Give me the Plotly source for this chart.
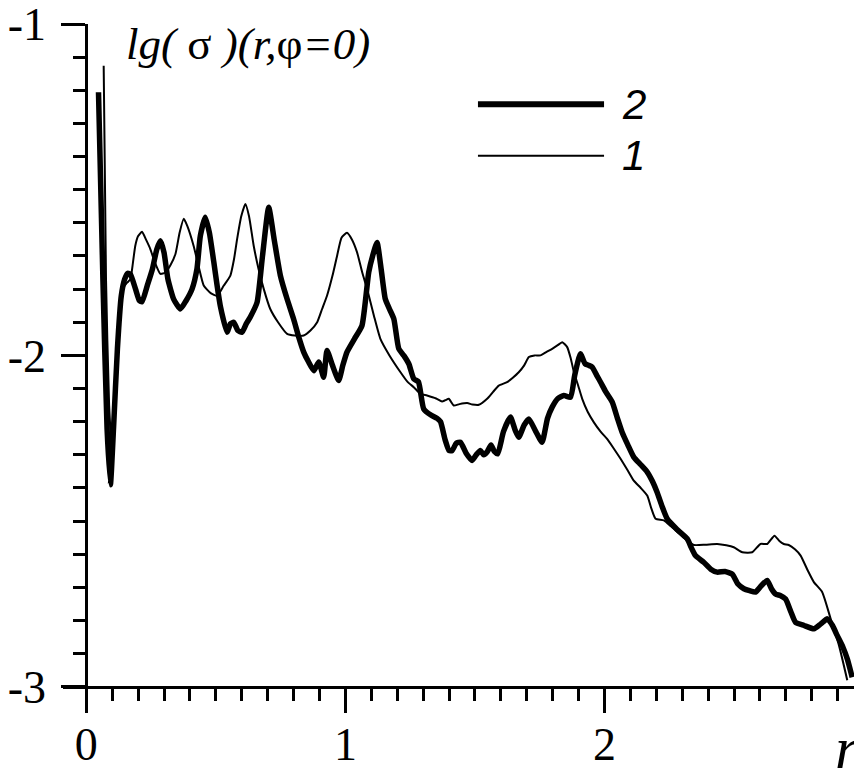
import plotly.graph_objects as go

# ---- data ----
r_curve1 = [0.067, 0.076, 0.088, 0.1, 0.112, 0.124, 0.14, 0.158, 0.17, 0.18, 0.189, 0.2, 0.215, 0.23, 0.247,
            0.265, 0.286, 0.305, 0.324, 0.344, 0.36, 0.376, 0.39, 0.414, 0.433, 0.453, 0.48, 0.505, 0.53, 0.556,
            0.57, 0.582, 0.598, 0.614, 0.628, 0.646, 0.665, 0.685, 0.71, 0.74, 0.775, 0.805, 0.839, 0.865, 0.891,
            0.91, 0.929, 0.95, 0.968, 0.985, 1.006, 1.025, 1.045, 1.065, 1.084, 1.11, 1.135, 1.17, 1.212, 1.24,
            1.264, 1.29, 1.315, 1.35, 1.373, 1.386, 1.399, 1.418, 1.44, 1.47, 1.49, 1.515, 1.547, 1.57, 1.592,
            1.624, 1.645, 1.669, 1.69, 1.708, 1.73, 1.753, 1.775, 1.798, 1.818, 1.837, 1.856, 1.87, 1.882, 1.898,
            1.914, 1.935, 1.959, 1.985, 2.01, 2.035, 2.062, 2.088, 2.113, 2.14, 2.165, 2.18, 2.197, 2.229, 2.255,
            2.281, 2.31, 2.345, 2.39, 2.435, 2.47, 2.499, 2.532, 2.57, 2.602, 2.628, 2.656, 2.675, 2.692, 2.711,
            2.735, 2.757, 2.785, 2.808, 2.84, 2.873, 2.905, 2.937]
lg_curve1 = [-1.126, -1.77, -2.15, -2.30, -2.12, -1.89, -1.80, -1.78, -1.77, -1.72, -1.669, -1.64, -1.627, -1.65,
             -1.679, -1.72, -1.754, -1.75, -1.729, -1.694, -1.63, -1.588, -1.61, -1.669, -1.73, -1.789, -1.812,
             -1.82, -1.79, -1.759, -1.71, -1.649, -1.58, -1.543, -1.58, -1.669, -1.74, -1.80, -1.86, -1.90, -1.935,
             -1.94, -1.94, -1.925, -1.90, -1.86, -1.82, -1.76, -1.699, -1.645, -1.63, -1.65, -1.689, -1.75, -1.80,
             -1.88, -1.95, -2.0, -2.05, -2.08, -2.096, -2.116, -2.121, -2.13, -2.139, -2.135, -2.131, -2.151,
             -2.147, -2.144, -2.148, -2.149, -2.131, -2.11, -2.091, -2.081, -2.068, -2.051, -2.03, -2.005, -2.0,
             -2.0, -1.99, -1.98, -1.97, -1.96, -1.975, -2.01, -2.051, -2.09, -2.131, -2.17, -2.202, -2.23, -2.252,
             -2.28, -2.312, -2.345, -2.378, -2.40, -2.423, -2.46, -2.493, -2.498, -2.515, -2.533, -2.553, -2.572,
             -2.571, -2.569, -2.573, -2.579, -2.594, -2.594, -2.569, -2.569, -2.544, -2.56, -2.569, -2.572, -2.585,
             -2.604, -2.65, -2.684, -2.714, -2.795, -2.875, -2.98]

r_curve2 = [0.047, 0.064, 0.08, 0.093, 0.105, 0.12, 0.135, 0.148, 0.16, 0.17, 0.19, 0.205, 0.215, 0.235, 0.255,
            0.272, 0.286, 0.30, 0.315, 0.337, 0.363, 0.385, 0.408, 0.427, 0.44, 0.459, 0.475, 0.492, 0.505, 0.517,
            0.543, 0.556, 0.569, 0.585, 0.601, 0.617, 0.633, 0.659, 0.68, 0.704, 0.725, 0.749, 0.775, 0.80, 0.82,
            0.839, 0.858, 0.878, 0.897, 0.916, 0.929, 0.95, 0.974, 0.99, 1.006, 1.035, 1.064, 1.09, 1.105, 1.122,
            1.138, 1.154, 1.17, 1.187, 1.206, 1.225, 1.245, 1.264, 1.282, 1.302, 1.33, 1.354, 1.367, 1.385, 1.40,
            1.412, 1.428, 1.444, 1.466, 1.489, 1.505, 1.521, 1.534, 1.548, 1.562, 1.575, 1.588, 1.61, 1.637, 1.655,
            1.669, 1.69, 1.708, 1.735, 1.759, 1.78, 1.798, 1.82, 1.843, 1.869, 1.885, 1.907, 1.925, 1.939, 1.952,
            1.97, 1.985, 2.005, 2.03, 2.05, 2.068, 2.09, 2.113, 2.14, 2.165, 2.185, 2.203, 2.222, 2.242, 2.28,
            2.319, 2.335, 2.351, 2.383, 2.41, 2.435, 2.465, 2.493, 2.515, 2.538, 2.56, 2.583, 2.605, 2.628, 2.645,
            2.66, 2.68, 2.699, 2.72, 2.737, 2.77, 2.808, 2.835, 2.86, 2.88, 2.898, 2.92, 2.937, 2.956]
lg_curve2 = [-1.206, -1.77, -2.22, -2.39, -2.22, -1.98, -1.82, -1.77, -1.752, -1.755, -1.80, -1.835, -1.838, -1.79,
             -1.74, -1.68, -1.654, -1.69, -1.77, -1.83, -1.86, -1.835, -1.80, -1.739, -1.64, -1.583, -1.63, -1.718,
             -1.79, -1.85, -1.93, -1.905, -1.90, -1.925, -1.93, -1.905, -1.884, -1.84, -1.70, -1.553, -1.65, -1.759,
             -1.83, -1.89, -1.945, -1.99, -2.02, -2.046, -2.02, -2.066, -1.985, -2.03, -2.076, -2.03, -1.99, -1.95,
             -1.91, -1.749, -1.70, -1.659, -1.74, -1.83, -1.86, -1.89, -1.98, -2.0, -2.026, -2.071, -2.08, -2.161,
             -2.18, -2.19, -2.20, -2.255, -2.287, -2.287, -2.265, -2.262, -2.295, -2.317, -2.30, -2.287, -2.30,
             -2.29, -2.27, -2.29, -2.297, -2.23, -2.186, -2.225, -2.247, -2.21, -2.192, -2.23, -2.262, -2.19, -2.156,
             -2.13, -2.121, -2.126, -2.06, -1.995, -2.025, -2.03, -2.035, -2.06, -2.081, -2.11, -2.141, -2.19,
             -2.232, -2.27, -2.307, -2.33, -2.352, -2.38, -2.413, -2.455, -2.493, -2.525, -2.553, -2.58, -2.604,
             -2.624, -2.645, -2.654, -2.652, -2.66, -2.69, -2.704, -2.71, -2.714, -2.695, -2.679, -2.705, -2.72,
             -2.725, -2.735, -2.775, -2.805, -2.815, -2.825, -2.81, -2.795, -2.815, -2.845, -2.88, -2.916, -2.971]

x_major = [0, 1, 2]
x_major_text = ["0", "1", "2"]
y_major = [-3, -2, -1]
y_major_text = ["-3", "-2", "-1"]
legend_labels = ["2", "1"]

X_RANGE = [-0.09, 2.99]
Y_RANGE = [-3.07, -1.0]

fig = go.Figure()
fig.add_trace(go.Scatter(x=r_curve1, y=lg_curve1, mode="lines",
                         line=dict(color="black", width=2, shape="spline", smoothing=0.5),
                         showlegend=False, hoverinfo="skip"))
fig.add_trace(go.Scatter(x=r_curve2, y=lg_curve2, mode="lines",
                         line=dict(color="black", width=5.5, shape="spline", smoothing=0.5),
                         showlegend=False, hoverinfo="skip"))

serif = "Liberation Serif"
sans = "Liberation Sans"

# x axis sits at y = -3, y axis sits at r = 0
xaxis_pos = (y_major[0] - Y_RANGE[0]) / (Y_RANGE[1] - Y_RANGE[0])
yaxis_pos = (x_major[0] - X_RANGE[0]) / (X_RANGE[1] - X_RANGE[0])

common_axis = dict(showgrid=False, zeroline=False, automargin=False,
                   showline=True, linecolor="black", linewidth=3,
                   anchor="free", ticklabeloverflow="allow",
                   tickmode="array",
                   ticks="outside", ticklen=24, tickwidth=3, tickcolor="black",
                   tickfont=dict(family=serif, size=46, color="black"),
                   minor=dict(tickmode="linear", tick0=0, dtick=0.1, ticks="outside",
                              ticklen=12, tickwidth=3, tickcolor="black", showgrid=False))

# the page body adds an 8px margin, so the figure is 8px smaller than the window
fig.update_layout(
    width=854, height=762,
    margin=dict(l=55, r=1, t=16, b=60),
    paper_bgcolor="white", plot_bgcolor="white",
    xaxis=dict(common_axis, range=X_RANGE, position=xaxis_pos,
               tickvals=x_major, ticktext=x_major_text, ticklabelstandoff=-8),
    yaxis=dict(common_axis, range=Y_RANGE, position=yaxis_pos,
               tickvals=y_major, ticktext=y_major_text, ticklabelstandoff=6),
)

# title inside plot
fig.add_annotation(xref="paper", yref="paper", x=0.077, y=0.971, xanchor="left", yanchor="middle",
                   text="<i>lg(</i> σ <i>)(r,</i>φ<i>=0)</i>", showarrow=False,
                   font=dict(family=serif, size=45, color="black"))
# axis label r
fig.add_annotation(xref="paper", yref="paper", x=1.0, y=-0.055, xanchor="right", yanchor="middle",
                   text="<i>r</i>", showarrow=False,
                   font=dict(family=serif, size=60, color="black"))

# manual legend
leg_y = [0.883, 0.808]
leg_w = [6, 2]
for yy, ww, lab in zip(leg_y, leg_w, legend_labels):
    fig.add_shape(type="line", xref="paper", yref="paper", x0=0.520, x1=0.678, y0=yy, y1=yy,
                  line=dict(color="black", width=ww))
    fig.add_annotation(xref="paper", yref="paper", x=0.715, y=yy, xanchor="center", yanchor="middle",
                       text="<i>" + lab + "</i>", showarrow=False,
                       font=dict(family=sans, size=42, color="black"))

fig.write_html("out.html")
